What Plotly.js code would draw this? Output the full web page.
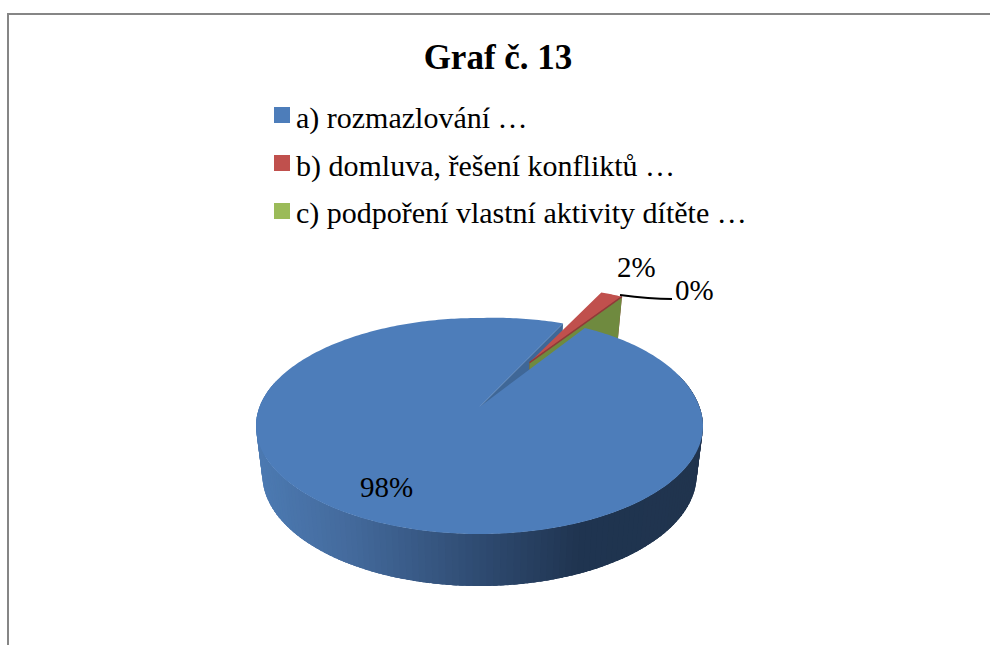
<!DOCTYPE html>
<html><head><meta charset="utf-8">
<script src="https://cdn.plot.ly/plotly-3.0.1.min.js"></script>
<style>html,body{margin:0;padding:0;background:#fff}#c{width:990px;height:645px}</style></head>
<body><div id="c"></div>
<script>
// --- data ---
const categories = ['a) rozmazlování …', 'b) domluva, řešení konfliktů …', 'c) podpoření vlastní aktivity dítěte …'];
const values = [98, 2, 0];
const exploded = [0, 0.52, 0.52];
// --- styles ---
const topColors = ['#4d7dba', '#c0504d', '#9bbb59'];
const cutColors = ['#3f6797', '#8f3a38', '#6f8a3f'];
const sideStops = [[0, [76,122,178]], [0.2, [68,106,156]], [0.5, [46,74,112]], [0.72, [31,52,80]], [1, [32,52,78]]];
// --- geometry of the tilted pie ---
const CX = 479.5, CY = 426, RX = 223.5, RY = 108, K = 19 / 108, FIRST_ANGLE = 56.7;
const BOTTOM_SCALE = 0.972, EXPLODE_TURN = 1.5, RIM_LIFT = 6;
const rad = d => d * Math.PI / 180;
const project = (u, v) => {
  const w = 1 + K * v;
  return {x: CX + RX * Math.sqrt(1 - K * K) * u / w, y: CY - (RY * v + 19) / w, w};
};
const lower = (p) => ({x: CX + (p.x - CX) * BOTTOM_SCALE, y: p.y + 72.8 - 25.2 * p.w});
const total = values.reduce((a, b) => a + b, 0);
let cursor = FIRST_ANGLE;
const slices = values.map((v, i) => {
  const start = cursor, end = cursor - 360 * v / total; cursor = end;
  return {start, end, i};
});
const mid = s => (s.start + s.end) / 2;
// exploded slices share the direction of their group
const explodeDir = mid(slices[1]) + EXPLODE_TURN;
const origin = i => exploded[i] ? [exploded[i] * Math.cos(rad(explodeDir)), exploded[i] * Math.sin(rad(explodeDir))] : [0, 0];
const rim = (i, a) => {
  const o = origin(i), c = Math.cos(rad(a)), s = Math.sin(rad(a));
  const p = project(o[0] + c, o[1] + s);
  if (!exploded[i] && c > 0 && s > 0) p.y -= RIM_LIFT * c * s;
  return p;
};
const apex = i => { const o = origin(i); return project(o[0], o[1]); };
const poly = (pts, color) => ({
  x: pts.map(p => p.x), y: pts.map(p => p.y), type: 'scatter', mode: 'none',
  fill: 'toself', fillcolor: color, hoverinfo: 'skip', showlegend: false
});
const edge = (pts, color, width) => ({
  x: pts.map(p => p.x), y: pts.map(p => p.y), type: 'scatter', mode: 'lines',
  line: {color, width}, hoverinfo: 'skip', showlegend: false
});
const mix = f => {
  for (let k = 1; k < sideStops.length; k++) {
    if (f <= sideStops[k][0]) {
      const [a, ca] = sideStops[k - 1], [b, cb] = sideStops[k], t = (f - a) / (b - a);
      return 'rgb(' + ca.map((c, j) => Math.round(c + (cb[j] - c) * t)).join(',') + ')';
    }
  }
  return 'rgb(' + sideStops[sideStops.length - 1][1].join(',') + ')';
};
const traces = [];
// side of the large slice; each strip overlaps the next one so no seams show
for (let a = 165; a < 375; a += 1.5) {
  const p = rim(0, a), q = rim(0, a + 4);
  traces.push(poly([p, q, lower(q), lower(p)], mix(Math.max(0, Math.min(1, (p.x - 256) / 447)))));
}
// inner cut face of the large slice
const a0 = slices[0];
traces.push(poly([apex(0), rim(0, a0.end), lower(rim(0, a0.end)), lower(apex(0))], cutColors[0]));
// cut faces of the exploded slices
slices.slice(1).forEach(s => {
  const at = apex(s.i), r = rim(s.i, s.end);
  traces.push(poly([at, r, lower(r), lower(at)], cutColors[s.i]));
});
// top of the large slice
const topPts = [apex(0)];
for (let a = a0.start; a >= a0.end; a -= 1) topPts.push(rim(0, a));
topPts.push(rim(0, a0.end));
traces.push(poly(topPts, topColors[0]));
// top of the exploded slices
slices.slice(1).forEach(s => {
  if (values[s.i] === 0) return;
  const pts = [apex(s.i)];
  for (let a = s.start; a >= s.end; a -= 0.5) pts.push(rim(s.i, a));
  pts.push(rim(s.i, s.end));
  traces.push(poly(pts, topColors[s.i]));
  traces.push(edge([apex(s.i), rim(s.i, s.end)], cutColors[s.i], 1.5));
});
const fontFamily = '"Liberation Serif", "Times New Roman", serif';
const annotations = categories.map((c, i) => ({
  text: c, x: 294, y: 118 + 47.5 * i, xref: 'x', yref: 'y', xanchor: 'left', yanchor: 'middle', showarrow: false,
  font: {family: fontFamily, size: 30, color: '#000'}
}));
const labelPos = [[386, 487], [636, 267], [694, 290]];
values.forEach((v, i) => annotations.push({
  text: v + '%', x: labelPos[i][0], y: labelPos[i][1], xref: 'x', yref: 'y', showarrow: false,
  font: {family: fontFamily, size: 29, color: '#000'}
}));
const shapes = [
  {type: 'line', xref: 'x', yref: 'y', x0: 7.5, x1: 990, y0: 14, y1: 14, line: {color: '#868686', width: 2}},
  {type: 'line', xref: 'x', yref: 'y', x0: 8, x1: 8, y0: 13, y1: 645, line: {color: '#868686', width: 2}},
  {type: 'path', xref: 'x', yref: 'y', path: 'M 620 295 Q 650 299 672 299', line: {color: '#000', width: 2}}
];
categories.forEach((c, i) => shapes.push({
  type: 'rect', xref: 'x', yref: 'y', x0: 274, x1: 290, y0: 107 + 48 * i, y1: 123 + 48 * i,
  fillcolor: topColors[i], line: {width: 0}
}));
const hidden = {visible: false, fixedrange: true, showgrid: false, zeroline: false};
Plotly.newPlot('c', traces, {
  width: 990, height: 645, margin: {l: 0, r: 0, t: 0, b: 0}, paper_bgcolor: '#fff', plot_bgcolor: '#fff',
  showlegend: false,
  title: {text: '<b>Graf č. 13</b>', x: 498 / 990, xanchor: 'center', y: 1 - 57 / 645, yanchor: 'middle',
    font: {family: fontFamily, size: 35, color: '#000'}},
  xaxis: Object.assign({range: [0, 990]}, hidden),
  yaxis: Object.assign({range: [645, 0]}, hidden),
  annotations, shapes
}, {displayModeBar: false, responsive: false});
</script></body></html>
